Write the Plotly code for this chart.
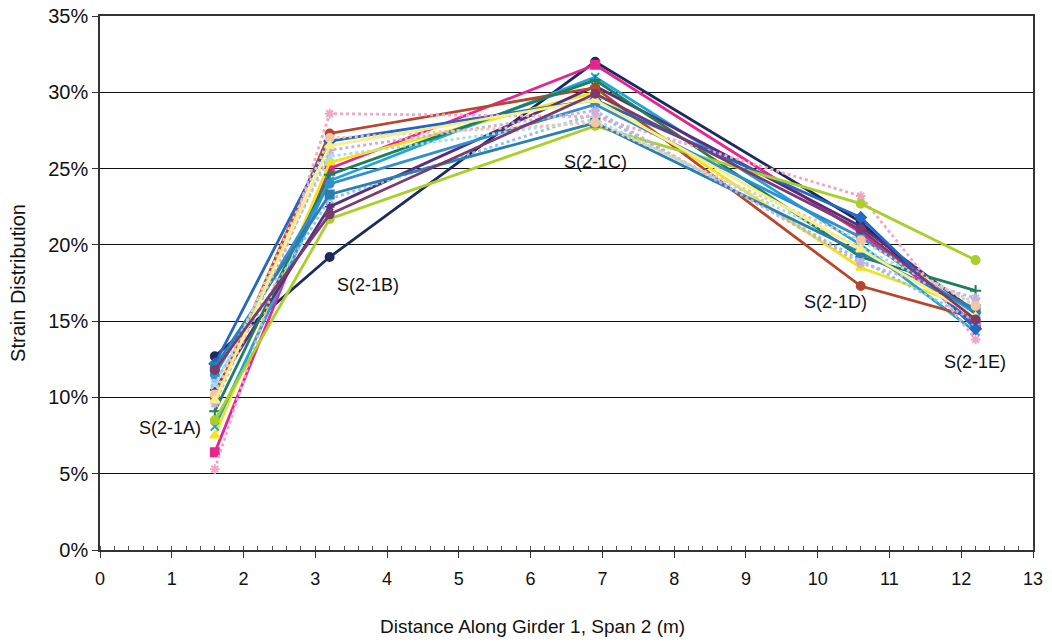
import plotly.graph_objects as go

x_pos = [1.6, 3.2, 6.9, 10.6, 12.2]

series_names = [f"Run {i}" for i in range(1, 19)]
series_values = [
    [12.7, 19.2, 32.0, 21.5, 14.6],
    [6.4, 25.0, 31.8, 20.8, 14.8],
    [7.5, 25.4, 30.0, 18.5, 15.8],
    [8.1, 24.2, 31.0, 20.0, 14.3],
    [10.5, 22.5, 30.4, 21.2, 15.6],
    [10.0, 27.3, 30.3, 17.3, 15.2],
    [9.1, 24.6, 30.8, 19.2, 17.0],
    [12.2, 26.8, 29.5, 21.8, 14.5],
    [11.0, 23.0, 28.6, 19.0, 15.0],
    [5.3, 28.6, 28.4, 23.2, 13.8],
    [8.5, 21.7, 27.8, 22.7, 19.0],
    [11.5, 24.0, 29.2, 20.5, 15.5],
    [12.0, 23.3, 28.0, 19.5, 15.8],
    [10.8, 25.8, 28.2, 19.8, 16.2],
    [9.6, 26.2, 28.8, 18.8, 16.5],
    [10.2, 27.0, 28.0, 20.3, 16.0],
    [9.8, 26.5, 29.5, 19.7, 15.3],
    [11.8, 22.0, 29.9, 21.0, 15.1],
]
series_colors = [
    "#1c2a5e", "#e8248e", "#f2e41a", "#1ea6dc", "#5b2d7c", "#b8462c",
    "#1f7f5a", "#2466c4", "#8fc4e6", "#f2a6c6", "#a9cf2a", "#2f8fd0",
    "#2a7fb0", "#a8dcea", "#c7b0dc", "#f4c7a0", "#f6ef8a", "#7a3b6e",
]
series_symbols = [
    "circle", "square", "triangle-up", "x-thin-open", "asterisk-open", "circle",
    "cross-thin-open", "diamond", "x-thin-open", "asterisk-open", "circle", "circle",
    "square", "x-thin-open", "asterisk-open", "circle", "triangle-up", "circle",
]
series_dash = [
    "solid", "solid", "solid", "solid", "solid", "solid",
    "solid", "solid", "dot", "dot", "solid", "solid",
    "solid", "dot", "dot", "dot", "solid", "solid",
]

label_text = ["S(2-1A)", "S(2-1B)", "S(2-1C)", "S(2-1D)", "S(2-1E)"]
label_x = [0.97, 3.73, 6.91, 10.25, 12.19]
label_y = [0.080, 0.174, 0.254, 0.1625, 0.123]

FONT = "Liberation Sans, Arial"

fig = go.Figure()
for name, vals, col, sym, dash in zip(series_names, series_values, series_colors,
                                      series_symbols, series_dash):
    fig.add_trace(go.Scatter(
        x=x_pos, y=[v / 100 for v in vals], name=name, mode="lines+markers",
        line=dict(color=col, width=2.8, dash=dash),
        marker=dict(symbol=sym, size=8, color=col, line=dict(color=col, width=2)),
        showlegend=False,
    ))

for t, lx, ly in zip(label_text, label_x, label_y):
    fig.add_annotation(x=lx, y=ly, text=t, showarrow=False,
                       font=dict(family=FONT, size=18, color="#111"))

fig.add_annotation(xref="paper", yref="paper", x=0.464, y=-0.144, yanchor="middle",
                   text="Distance Along Girder 1, Span 2 (m)", showarrow=False,
                   font=dict(family=FONT, size=19, color="#111"))
fig.add_annotation(xref="paper", yref="paper", x=-0.088, y=0.5, xanchor="center",
                   yanchor="middle",
                   textangle=-90, text="Strain Distribution", showarrow=False,
                   font=dict(family=FONT, size=20, color="#111"))

fig.update_layout(
    width=1052, height=644,
    margin=dict(l=100, r=19, t=16, b=94),
    paper_bgcolor="white", plot_bgcolor="white",
    font=dict(family=FONT, size=18, color="#111"),
)
fig.update_xaxes(
    range=[0, 13], dtick=1, tick0=0, automargin=False,
    showgrid=False, zeroline=False,
    showline=True, linecolor="#333", linewidth=1.5, mirror=True,
    ticks="outside", ticklen=6, tickcolor="#333", ticklabelstandoff=6,
    minor=dict(dtick=0.2, ticks="inside", ticklen=4, tickcolor="#555", showgrid=False),
    tickfont=dict(size=18),
)
fig.update_yaxes(
    range=[0, 0.35], dtick=0.05, tickformat=".0%", automargin=False,
    showgrid=True, gridcolor="#111", gridwidth=1.2, zeroline=False,
    showline=True, linecolor="#333", linewidth=1.5, mirror=True,
    ticks="outside", ticklen=6, tickcolor="#333",
    tickfont=dict(size=20),
)

fig.write_html("out.html", config={"displayModeBar": False},
               post_script="document.body.style.margin='0';document.body.style.padding='0';")
